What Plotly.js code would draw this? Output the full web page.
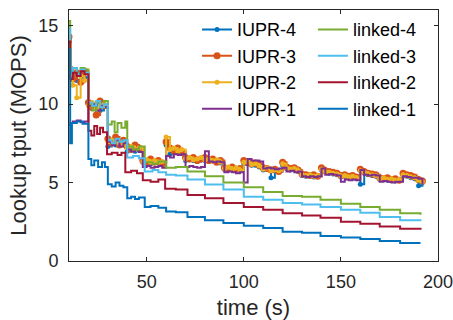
<!DOCTYPE html>
<html>
<head>
<meta charset="utf-8">
<script src="https://cdn.plot.ly/plotly-3.0.1.min.js"></script>
<style>html,body{margin:0;padding:0;background:#fff;}#chart{width:453px;height:320px;}</style>
</head>
<body>
<div id="chart"></div>
<script>
// Shared time axis (s) for the IUPR runs
const timeIUPR = [10, 11,
  12, 14, 16, 18,
  20, 22, 24, 26, 28,
  30, 32, 34, 36, 38,
  40, 42, 44, 46, 48,
  50, 52, 54, 56, 58,
  60, 62, 64, 66, 68,
  70, 72, 74, 76, 78,
  80, 82, 84, 86, 88,
  90, 92, 94, 96, 98,
  100, 102, 104, 106, 108,
  110, 112, 114, 116, 118,
  120, 122, 124, 126, 128,
  130, 132, 134, 136, 138,
  140, 142, 144, 146, 148,
  150, 152, 154, 156, 158,
  160, 162, 164, 166, 168,
  170, 172, 174, 176, 178,
  180, 182, 184, 186, 188,
  190, 192];

const iupr4 = [13.2, 11.7,
  11.9, 11.5, 12.0, 11.7,
  10.0, 9.7, 9.9, 9.6, 10.0,
  7.3, 7.6, 7.4, 7.5, 7.5,
  7.0, 7.2, 7.0, 7.1, 6.3,
  6.3, 6.2, 6.3, 6.25, 6.3,
  7.4, 6.8, 7.0, 6.95, 6.9,
  6.4, 6.45, 6.4, 6.35, 6.45,
  6.4, 6.35, 6.4, 6.3, 6.25,
  5.85, 5.8, 5.85, 5.8, 5.75,
  6.2, 6.2, 6.1, 6.1, 6.0,
  5.8, 5.85, 5.3, 5.75, 5.7,
  6.1, 5.9, 5.8, 5.85, 5.7,
  5.45, 5.4, 5.45, 5.35, 5.4,
  5.8, 5.65, 5.6, 5.55, 5.5,
  5.35, 5.4, 5.3, 5.35, 5.25,
  4.9, 5.6, 5.5, 5.45, 5.4,
  5.2, 5.25, 5.15, 5.2, 5.1,
  5.15, 5.45, 5.4, 5.3, 5.25,
  4.8, 5.0];

const iupr3 = [14.3, 12.2,
  11.6, 12.0, 11.4, 12.1,
  10.1, 9.8, 9.3, 10.2, 9.9,
  7.8, 7.5, 7.9, 7.4, 7.7,
  7.3, 7.1, 7.4, 7.2, 6.4,
  6.3, 6.5, 6.3, 6.4, 6.2,
  7.6, 7.2, 7.0, 7.2, 7.0,
  6.6, 6.5, 6.6, 6.4, 6.5,
  6.6, 6.4, 6.5, 6.3, 6.4,
  5.95, 5.9, 6.0, 5.85, 5.9,
  6.4, 6.3, 6.2, 6.25, 6.1,
  5.95, 5.9, 5.8, 5.85, 5.7,
  6.3, 6.0, 5.9, 5.95, 5.8,
  5.55, 5.5, 5.45, 5.5, 5.4,
  5.95, 5.75, 5.7, 5.65, 5.6,
  5.45, 5.5, 5.4, 5.45, 5.35,
  5.85, 5.7, 5.6, 5.55, 5.5,
  5.3, 5.25, 5.3, 5.2, 5.25,
  5.15, 5.6, 5.5, 5.45, 5.35,
  5.2, 5.1];

const iupr2 = [13.8, 11.9,
  11.2, 10.4, 11.8, 11.5,
  9.9, 10.1, 9.7, 9.9, 10.0,
  7.6, 7.7, 7.5, 7.6, 7.4,
  7.2, 7.3, 7.1, 7.2, 6.35,
  6.45, 6.3, 6.4, 6.3, 6.35,
  7.9, 7.1, 7.2, 7.0, 7.1,
  6.5, 6.6, 6.45, 6.5, 6.6,
  6.45, 6.5, 6.35, 6.45, 6.3,
  5.9, 6.0, 5.85, 5.95, 5.8,
  6.3, 6.35, 6.15, 6.2, 6.05,
  5.85, 5.95, 5.75, 5.8, 5.75,
  6.2, 5.95, 5.85, 5.9, 5.75,
  5.5, 5.45, 5.5, 5.4, 5.45,
  5.85, 5.7, 5.65, 5.6, 5.55,
  5.4, 5.45, 5.35, 5.4, 5.3,
  5.75, 5.65, 5.55, 5.5, 5.45,
  5.25, 5.3, 5.2, 5.25, 5.15,
  5.2, 5.5, 5.45, 5.35, 5.3,
  5.15, 5.05];

const iupr1 = [8.7, 8.8,
  8.9, 8.95, 8.85, 8.9,
  9.9, 10.0, 9.6, 9.9, 9.8,
  7.6, 7.4, 7.7, 7.3, 7.5,
  7.1, 7.0, 7.1, 6.95, 6.0,
  6.05, 5.95, 6.0, 6.05, 5.95,
  6.7, 6.6, 6.8, 6.75, 6.8,
  6.0, 6.05, 6.0, 5.95, 6.0,
  7.0, 6.35, 6.3, 6.35, 6.3,
  5.65, 5.7, 5.65, 5.6, 5.65,
  5.0, 6.5, 6.4, 6.4, 6.35,
  5.9, 5.95, 5.9, 5.85, 5.9,
  5.95, 5.7, 5.75, 5.65, 5.7,
  5.4, 5.35, 5.4, 5.35, 5.4,
  5.9, 5.5, 5.55, 5.5, 5.45,
  5.05, 5.2, 5.15, 5.2, 5.15,
  5.8, 5.5, 5.45, 5.5, 5.45,
  5.05, 5.1, 5.05, 5.0, 5.05,
  5.05, 5.4, 5.35, 5.3, 5.3,
  5.25, 4.9];

// linked runs: change points (s) and levels (MOPS)
const linked4T = [10, 10.6, 12, 14, 16, 18, 20, 22, 24, 26, 28, 30, 32, 33.5, 35, 37, 39, 40, 43, 46, 49, 53, 56, 60, 65, 71, 80, 89.5, 100, 110, 120, 130, 139.5, 150, 160, 170, 180.5, 191];
const linked4V = [15.3, 12.1, 12.3, 12.0, 12.3, 12.2, 10.0, 9.6, 10.1, 9.8, 10.2, 8.7, 8.9, 8.2, 8.8, 8.5, 8.9, 7.3, 7.1, 7.3, 6.3, 6.2, 6.35, 5.95, 6.0, 5.7, 5.4, 5.0, 4.7, 4.4, 4.15, 4.1, 3.9, 3.65, 3.45, 3.27, 3.05, 2.95];

const linked3T = [10, 10.6, 12, 14, 16, 18, 20, 22, 24, 26, 28, 30, 32, 34, 36, 38, 40, 43, 46, 49, 53, 56, 60, 65, 71, 80, 89.5, 100, 110, 120, 130, 139.5, 150, 160, 170, 180.5, 191];
const linked3V = [14.8, 12.0, 12.3, 11.9, 12.2, 12.0, 10.1, 9.9, 10.2, 9.8, 10.0, 7.7, 7.5, 7.8, 7.6, 7.7, 6.6, 6.7, 6.55, 5.7, 5.8, 5.65, 5.5, 5.45, 5.2, 4.87, 4.55, 4.1, 3.9, 3.7, 3.6, 3.45, 3.27, 3.08, 2.8, 2.6, 2.55];

const linked2T = [10, 10.6, 12, 14, 16, 18, 20, 21.5, 23, 24.5, 26, 27.5, 29.6, 32, 35, 37, 39, 42, 45, 48, 52, 56, 59.5, 65, 71, 80, 89.5, 100, 110, 120, 130, 139.5, 150, 160, 170, 180.5, 191];
const linked2V = [14.0, 11.6, 12.0, 11.8, 12.1, 11.9, 8.3, 8.0, 8.6, 8.1, 8.5, 8.2, 6.8, 6.9, 6.75, 6.9, 5.65, 5.75, 5.6, 5.15, 5.05, 5.2, 4.6, 4.55, 4.2, 4.0, 3.7, 3.45, 3.27, 3.05, 2.9, 2.75, 2.5, 2.37, 2.2, 2.05, 2.0];

const linked1T = [10, 10.6, 11.5, 14, 17, 20, 21.5, 23, 25, 27, 28.5, 30, 32, 34, 36, 38, 40, 42, 44, 46, 49, 52, 56, 60, 65, 71, 80, 89.5, 100, 110, 120, 130, 139.5, 150, 160, 170, 180.5, 191];
const linked1V = [13.5, 7.5, 8.8, 8.9, 8.75, 6.5, 6.1, 6.4, 6.0, 6.3, 6.0, 4.9, 4.75, 5.0, 4.8, 4.7, 4.0, 4.1, 3.95, 4.05, 3.45, 3.5, 3.4, 3.15, 3.1, 2.8, 2.6, 2.43, 2.25, 2.1, 1.86, 1.8, 1.6, 1.5, 1.4, 1.28, 1.15, 1.15];

const seriesNames = ['IUPR-4', 'IUPR-3', 'IUPR-2', 'IUPR-1', 'linked-4', 'linked-3', 'linked-2', 'linked-1'];
const xTicks = [50, 100, 150, 200];
const yTicks = [0, 5, 10, 15];

const C = {blue:'#0072BD', orange:'#D95319', yellow:'#EDB120', purple:'#7E2F8E', green:'#77AC30', cyan:'#4DBEEE', red:'#A2142F'};
const FONT = 'Liberation Sans, Arial, Helvetica, sans-serif';
const AX = '#262626';

function tr(name, x, y, color, mode, msize, legend) {
  return {
    type: 'scatter', name: name, x: x, y: y, mode: mode,
    line: {color: color, width: 2, shape: 'hv'},
    marker: {color: color, size: msize},
    legend: legend
  };
}

const data = [
  tr(seriesNames[0], timeIUPR, iupr4, C.blue, 'lines+markers', 5, 'legend'),
  tr(seriesNames[1], timeIUPR, iupr3, C.orange, 'lines+markers', 7, 'legend'),
  tr(seriesNames[2], timeIUPR, iupr2, C.yellow, 'lines+markers', 5, 'legend'),
  tr(seriesNames[3], timeIUPR, iupr1, C.purple, 'lines', 0, 'legend'),
  tr(seriesNames[4], linked4T, linked4V, C.green, 'lines', 0, 'legend2'),
  tr(seriesNames[5], linked3T, linked3V, C.cyan, 'lines', 0, 'legend2'),
  tr(seriesNames[6], linked2T, linked2V, C.red, 'lines', 0, 'legend2'),
  tr(seriesNames[7], linked1T, linked1V, C.blue, 'lines', 0, 'legend2')
];

const axisCommon = {
  showgrid: false, zeroline: false, showline: true, linecolor: AX, linewidth: 1,
  mirror: 'ticks', ticks: 'inside', ticklen: 4, tickcolor: AX, tickwidth: 1,
  ticklabeloverflow: 'allow',
  tickfont: {family: FONT, size: 18, color: AX}
};

const legendCommon = {
  xanchor: 'left', yanchor: 'top', bgcolor: 'rgba(0,0,0,0)', borderwidth: 0,
  font: {family: FONT, size: 18, color: '#000'}, tracegroupgap: 0
};

const layout = {
  width: 453, height: 320,
  margin: {l: 69, r: 15, t: 10, b: 59, pad: 0},
  paper_bgcolor: '#fff', plot_bgcolor: '#fff',
  font: {family: FONT, color: AX},
  showlegend: true,
  xaxis: Object.assign({}, axisCommon, {
    range: [10, 200], tickmode: 'array', tickvals: xTicks, ticktext: xTicks.map(String),
    ticklabelstandoff: 4,
    title: {text: 'time (s)', font: {family: FONT, size: 22, color: AX}, standoff: 9}
  }),
  yaxis: Object.assign({}, axisCommon, {
    range: [0, 16], tickmode: 'array', tickvals: yTicks, ticktext: yTicks.map(String),
    ticklabelstandoff: 6,
    title: {text: 'Lookup tput (MOPS)', font: {family: FONT, size: 22, color: AX}, standoff: 5}
  }),
  legend: Object.assign({}, legendCommon, {x: 0.347, y: 0.995}),
  legend2: Object.assign({}, legendCommon, {x: 0.661, y: 0.995})
};

Plotly.newPlot('chart', data, layout, {staticPlot: true, displayModeBar: false});
</script>
</body>
</html>
